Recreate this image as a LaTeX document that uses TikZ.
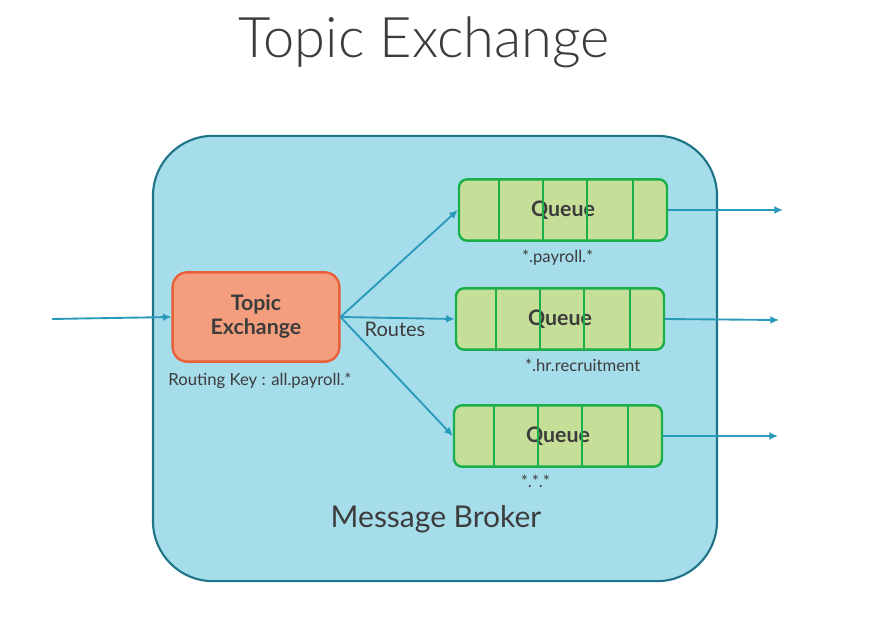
\documentclass[tikz,border=0pt]{standalone}
\usepackage{fontspec}
\setmainfont{Lato}
\newfontfamily\thinfont{Lato Light}
\usepackage{xcolor}
\usetikzlibrary{positioning, arrows.meta, calc}

\definecolor{brokerfill}{HTML}{A6DDEB}
\definecolor{brokerline}{HTML}{1F7488}
\definecolor{exchfill}{HTML}{F49E7E}
\definecolor{exchline}{HTML}{E8603A}
\definecolor{queuefill}{HTML}{C5DF98}
\definecolor{queueline}{HTML}{1BAF4B}
\definecolor{arrowblue}{HTML}{2A9ABB}
\definecolor{textdark}{HTML}{3C3C3C}

\begin{document}
\begin{tikzpicture}[
        x=0.75pt, y=-0.75pt,
        broker/.style    ={draw=brokerline, fill=brokerfill, line width=1.6pt,
                           rounded corners=45pt, minimum width=423pt,
                           minimum height=334pt},
        exch/.style      ={draw=exchline, fill=exchfill, line width=1.8pt,
                           rounded corners=11pt, minimum width=125pt,
                           minimum height=67pt, align=center, text=textdark,
                           font=\fontsize{16}{18}\selectfont\bfseries},
        queue/.style     ={draw=queueline, fill=queuefill, line width=1.8pt,
                           rounded corners=6pt, minimum width=156pt,
                           minimum height=46pt, text=textdark,
                           font=\fontsize{16}{18}\selectfont\bfseries},
        divider/.style   ={draw=queueline, line width=1.6pt},
        arr/.style       ={-{Latex[length=6.5pt,width=6pt]}, line width=1.4pt,
                           draw=arrowblue},
        lbl/.style       ={font=\fontsize{12.5}{14}\selectfont, text=textdark,
                           inner sep=1pt}
    ]
      \useasboundingbox (0,0) rectangle (879,632);

      % ===== TITLE =====
      \node[font=\thinfont\fontsize{42}{50}\selectfont, text=textdark]
            (title) at (424,42) {Topic Exchange};

      % ===== BROKER =====
      \node[broker]                         (broker) at (435,358.5) {};
      \node[font=\fontsize{22.5}{26}\selectfont, text=textdark]
            (brokertxt) at (436,519) {Message Broker};

      % ===== EXCHANGE =====
      \node[exch]                           (exch)  at (256,317) {Topic\\Exchange};
      \node[lbl, below=6pt of exch.south, xshift=3pt] (rkey) {Routing Key : all.payroll.*};

      % ===== QUEUES =====
      \node[queue]                          (q1)    at (563,210) {Queue};
      \node[queue]                          (q2)    at (560,319) {Queue};
      \node[queue]                          (q3)    at (558,436) {Queue};
      \foreach \q in {q1,q2,q3}
        \foreach \f in {0.197,0.404,0.615,0.832}
          \draw[divider] ($(\q.north west)!\f!(\q.north east)$)
                      -- ($(\q.south west)!\f!(\q.south east)$);
      \node[lbl, below=5pt of q1.south, xshift=-4pt]  (k1) {*.payroll.*};
      \node[lbl, below=5pt of q2.south, xshift=17pt]  (k2) {*.hr.recruitment};
      \node[lbl, below=4pt of q3.south, xshift=-17pt] (k3) {*.*.*};

      % ===== ARROWS =====
      \coordinate (src)  at (52,319);
      \coordinate (out1) at (783,210);
      \coordinate (out2) at (779,320);
      \coordinate (out3) at (778,436);
      \draw[arr] (src)       -- (exch.west);
      \draw[arr] (exch.east) -- (q1.west);
      \draw[arr] (exch.east) -- (q2.west);
      \draw[arr] (exch.east) -- (q3.west);
      \draw[arr] (q1.east)   -- (out1);
      \draw[arr] (q2.east)   -- (out2);
      \draw[arr] (q3.east)   -- (out3);
      \node[font=\fontsize{15}{17}\selectfont, text=textdark] (routes) at (395,329) {Routes};
    \end{tikzpicture}
\end{document}
